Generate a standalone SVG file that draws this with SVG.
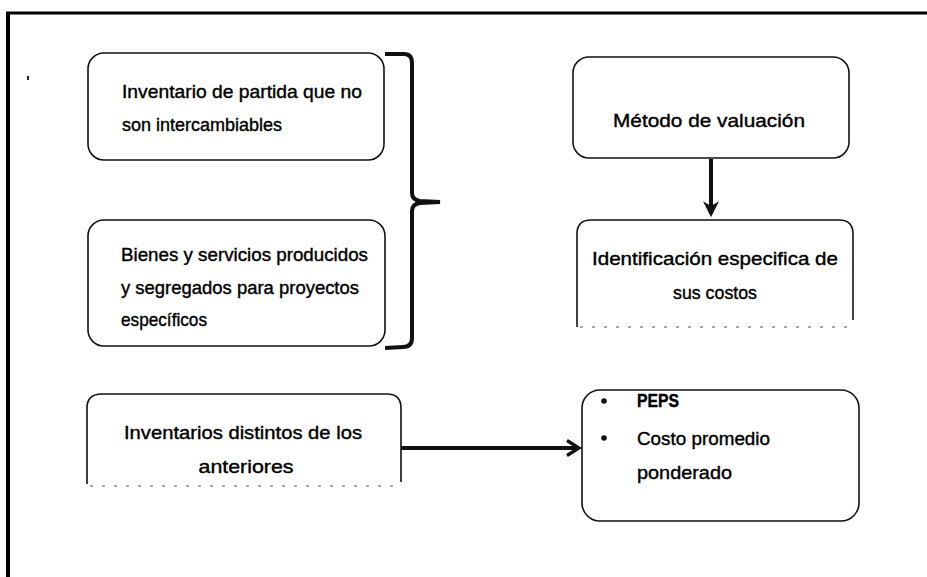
<svg xmlns="http://www.w3.org/2000/svg" width="927" height="577" viewBox="0 0 927 577">
<style>
.box{fill:#fff;stroke:#111;stroke-width:1.6}
.dot{fill:none;stroke:#555;stroke-width:1.2;stroke-dasharray:3 9}
.t{font-family:"Liberation Sans","Noto Sans",sans-serif;font-size:19px;fill:#000;stroke:#000;stroke-width:0.4}
.c{text-anchor:middle}
.con{fill:none;stroke:#111;stroke-width:4}
</style>
<defs>
<marker id="ah" viewBox="0 0 10 10" refX="8" refY="5" markerWidth="4" markerHeight="4" orient="auto" markerUnits="strokeWidth">
<path d="M0,0 L10,5 L0,10 L3,5 Z" fill="#111"/>
</marker>
<marker id="open" viewBox="0 0 12 12" refX="10" refY="6" markerWidth="4.5" markerHeight="4.5" orient="auto" markerUnits="strokeWidth">
<path d="M2,1 L10,6 L2,11" fill="none" stroke="#111" stroke-width="2.2"/>
</marker>
</defs>
<rect width="927" height="577" fill="#fff"/>
<g id="frame">
<line x1="6" y1="13" x2="927" y2="13" stroke="#000" stroke-width="3"/>
<line x1="8" y1="12" x2="8" y2="577" stroke="#000" stroke-width="4"/>
<rect x="27" y="76" width="2" height="4" fill="#222"/>
</g>
<g id="n1">
<rect class="box" x="88" y="53" width="296" height="107" rx="16"/>
<text class="t" x="122" y="98" textLength="240" lengthAdjust="spacingAndGlyphs">Inventario de partida que no</text>
<text class="t" x="122" y="131" textLength="160" lengthAdjust="spacingAndGlyphs">son intercambiables</text>
</g>
<g id="n2">
<rect class="box" x="88" y="220" width="297" height="126" rx="16"/>
<text class="t" x="121" y="261" textLength="247" lengthAdjust="spacingAndGlyphs">Bienes y servicios producidos</text>
<text class="t" x="121" y="294" textLength="238" lengthAdjust="spacingAndGlyphs">y segregados para proyectos</text>
<text class="t" x="121" y="326" textLength="86" lengthAdjust="spacingAndGlyphs">específicos</text>
</g>
<g id="n3">
<rect class="box" x="573" y="57" width="276" height="101" rx="16"/>
<text class="t c" x="709" y="127" textLength="192" lengthAdjust="spacingAndGlyphs">Método de valuación</text>
</g>
<g id="n4">
<path class="box" d="M577,327 L577,234 Q577,220 591,220 L839,220 Q853,220 853,234 L853,320"/>
<line class="dot" x1="580" y1="327" x2="850" y2="327"/>
<text class="t c" x="715" y="265" textLength="246" lengthAdjust="spacingAndGlyphs">Identificación especifica de</text>
<text class="t c" x="715" y="299" textLength="84" lengthAdjust="spacingAndGlyphs">sus costos</text>
</g>
<g id="n5">
<path class="box" d="M87,484 L87,408 Q87,394 102,394 L387,394 Q401,394 401,408 L401,482"/>
<line class="dot" x1="90" y1="486" x2="400" y2="486"/>
<text class="t c" x="243" y="439" textLength="238" lengthAdjust="spacingAndGlyphs">Inventarios distintos de los</text>
<text class="t c" x="246" y="473" textLength="95" lengthAdjust="spacingAndGlyphs">anteriores</text>
</g>
<g id="n6">
<rect class="box" x="582" y="390" width="277" height="131" rx="18"/>
<circle cx="604" cy="401" r="2.8" fill="#111"/>
<circle cx="604" cy="438" r="2.8" fill="#111"/>
<text class="t" x="637" y="407" font-weight="bold" textLength="42" lengthAdjust="spacingAndGlyphs">PEPS</text>
<text class="t" x="637" y="445" textLength="133" lengthAdjust="spacingAndGlyphs">Costo promedio</text>
<text class="t" x="637" y="479" textLength="95" lengthAdjust="spacingAndGlyphs">ponderado</text>
</g>
<g id="connectors">
<path class="con" d="M385,54 L404,54 Q412,54 412,63 L412,193 Q412,200 420,201 L440,202 L420,203 Q412,204 412,211 L412,338 Q412,347 403,347 L385,348"/>
<line class="con" x1="711" y1="159" x2="711" y2="214" marker-end="url(#ah)"/>
<line class="con" x1="401" y1="448" x2="579" y2="448" marker-end="url(#open)"/>
</g>
</svg>
